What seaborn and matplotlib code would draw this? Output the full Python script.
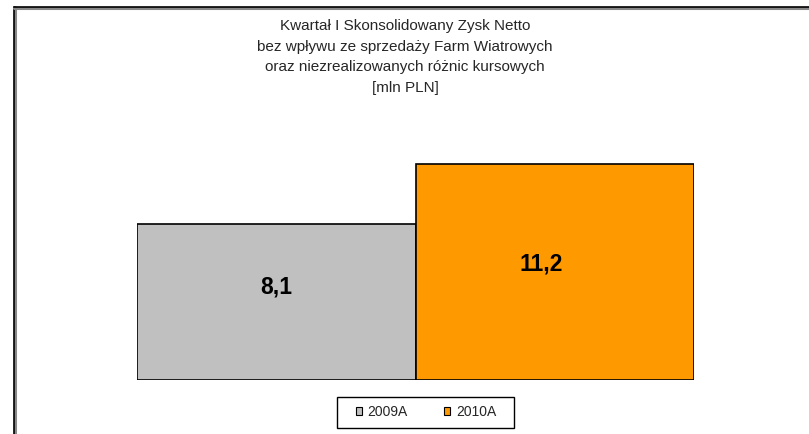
import matplotlib
matplotlib.use("Agg")
import matplotlib.pyplot as plt
import seaborn as sns
from matplotlib.patches import Patch, Rectangle
from matplotlib.lines import Line2D

categories = ["2009A", "2010A"]
values = [8.1, 11.2]
labels = ["8,1", "11,2"]
colors = ["#C0C0C0", "#FF9900"]
title = ("Kwartał I Skonsolidowany Zysk Netto\n"
         "bez wpływu ze sprzedaży Farm Wiatrowych\n"
         "oraz niezrealizowanych różnic kursowych\n"
         "[mln PLN]")

sns.set_style("white")
plt.rcParams["font.family"] = ["Liberation Sans", "DejaVu Sans"]

W, H = 809, 434
fig = plt.figure(figsize=(W / 100, H / 100), dpi=100)
ax = fig.add_axes([137 / W, 54 / H, 557 / W, 231.6 / H])

sns.barplot(x=categories, y=values, hue=categories, palette=colors,
            width=1.0, edgecolor="black", linewidth=1.2, legend=False,
            saturation=1, ax=ax)
ax.set_xlim(-0.5, 1.5)
ax.set_ylim(0, 12)
ax.axis("off")

label_offsets = [(0, 11), (-10, 6)]
for i, (v, lab, off) in enumerate(zip(values, labels, label_offsets)):
    ax.annotate(lab, (i, v / 2), xytext=off, textcoords="offset points",
                ha="center", va="center", fontsize=16.5,
                fontweight="bold", color="black")

fig.text(405 / W, 1 - 57 / H, title, ha="center", va="center",
         fontsize=11, linespacing=1.6)

handles = [Patch(facecolor=c, edgecolor="black", linewidth=0.8, label=l)
           for c, l in zip(colors, categories)]
leg = fig.legend(handles=handles, loc="center", ncol=2,
                 bbox_to_anchor=(426 / W, 1 - 412 / H), frameon=False,
                 fontsize=10, handlelength=0.45, handleheight=0.45,
                 handletextpad=0.4, columnspacing=2.6, borderpad=0.2)
fig.add_artist(Rectangle((337 / W, 1 - 428 / H), 177 / W, 31 / H,
                         transform=fig.transFigure, fill=False,
                         edgecolor="black", linewidth=1.0))

# chart border (left and top)
fig.add_artist(Line2D([15 / W, 15 / W], [0, 1 - 7 / H], transform=fig.transFigure,
                      color="#888888", linewidth=2.2))
fig.add_artist(Line2D([14 / W, 14 / W], [0, 1 - 7 / H], transform=fig.transFigure,
                      color="black", linewidth=1.2))
fig.add_artist(Line2D([14 / W, 1], [1 - 8 / H, 1 - 8 / H], transform=fig.transFigure,
                      color="#888888", linewidth=2.2))
fig.add_artist(Line2D([14 / W, 1], [1 - 7 / H, 1 - 7 / H], transform=fig.transFigure,
                      color="black", linewidth=1.2))

fig.savefig("out.png", dpi=100)
